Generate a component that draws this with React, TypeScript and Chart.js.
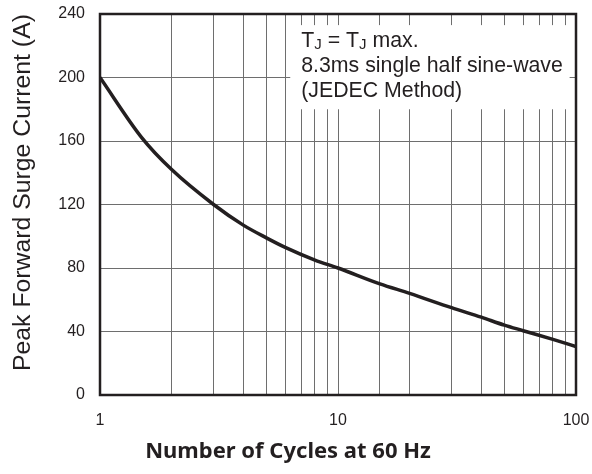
import React, { useEffect, useRef } from "react";
import { Chart, registerables } from "chart.js";
Chart.register(...registerables);

// Data
const cycles = [1, 1.5, 2, 3, 4, 5, 6, 8, 10, 15, 20, 30, 40, 50, 60, 80, 100];
const surgeCurrent = [200, 162, 142, 120, 107, 99, 93, 85, 80, 70, 64, 55, 49, 44, 40.5, 35, 30.5];
const xTickLabels = [1, 10, 100];
const yMin = 0;
const yMax = 240;
const yStep = 40;
const xTitle = "Number of Cycles at 60 Hz";
const yTitle = "Peak Forward Surge Current (A)";
const noteLines = ["8.3ms single half sine-wave", "(JEDEC Method)"];
// note box extent in data units
const noteX = [6.3, 94];
const noteY = [180, 233];

const INK = "#231f20";
const FONT = "'Liberation Sans', Arial, sans-serif";

const decor = {
  id: "decor",
  beforeDatasetsDraw(chart: any) {
    const { ctx, scales } = chart;
    const x = scales.x;
    const y = scales.y;
    const l = x.getPixelForValue(noteX[0]);
    const r = x.getPixelForValue(noteX[1]);
    const t = y.getPixelForValue(noteY[1]);
    const b = y.getPixelForValue(noteY[0]);
    ctx.save();
    ctx.fillStyle = "#ffffff";
    ctx.fillRect(l, t, r - l, b - t);
    ctx.fillStyle = INK;
    ctx.textBaseline = "alphabetic";
    ctx.textAlign = "left";
    const tx = l + 11;
    const base = t + 22;
    const big = `21.3px ${FONT}`;
    const small = `15px ${FONT}`;
    const parts: [string, boolean][] = [
      ["T", false],
      ["J", true],
      [" = T", false],
      ["J", true],
      [" max.", false],
    ];
    let cx = tx;
    for (const [s, sub] of parts) {
      ctx.font = sub ? small : big;
      ctx.fillText(s, cx, base + (sub ? 1.5 : 0));
      cx += ctx.measureText(s).width;
    }
    ctx.font = big;
    noteLines.forEach((line, i) => {
      ctx.fillText(line, tx, base + 25 * (i + 1));
    });
    ctx.restore();
  },
  afterDatasetsDraw(chart: any) {
    const { ctx, chartArea } = chart;
    ctx.save();
    ctx.strokeStyle = INK;
    ctx.lineWidth = 2.5;
    ctx.strokeRect(chartArea.left, chartArea.top, chartArea.right - chartArea.left, chartArea.bottom - chartArea.top);
    ctx.restore();
  },
  afterDraw(chart: any) {
    const { ctx, chartArea } = chart;
    ctx.save();
    ctx.translate(30, chartArea.bottom - 24);
    ctx.rotate(-Math.PI / 2);
    ctx.font = `24.8px ${FONT}`;
    ctx.fillStyle = INK;
    ctx.textAlign = "left";
    ctx.textBaseline = "alphabetic";
    ctx.fillText(yTitle, 0, 0);
    ctx.restore();
  },
};

export default function App() {
  const ref = useRef<HTMLCanvasElement | null>(null);
  useEffect(() => {
    document.body.style.margin = "0";
    const canvas = ref.current;
    if (!canvas) return;
    const chart = new Chart(canvas, {
      type: "line",
      data: {
        datasets: [
          {
            data: cycles.map((c, i) => ({ x: c, y: surgeCurrent[i] })),
            borderColor: INK,
            borderWidth: 3.5,
            pointRadius: 0,
            cubicInterpolationMode: "monotone",
            fill: false,
          },
        ],
      },
      options: {
        animation: false,
        responsive: false,
        layout: { padding: { top: 14, right: 16, left: 0, bottom: 0 } },
        plugins: {
          legend: { display: false },
          tooltip: { enabled: false },
          title: {
            display: true,
            position: "bottom",
            text: xTitle,
            color: INK,
            font: { family: "'Noto Sans', sans-serif", weight: "bold", size: 22 },
            padding: { top: 4, bottom: 9 },
          },
        },
        scales: {
          x: {
            type: "logarithmic",
            min: 1,
            max: 100,
            grid: { color: "#6e6e6e", lineWidth: 1, drawTicks: true, tickLength: 16, tickColor: "rgba(0,0,0,0)" },
            border: { display: false },
            ticks: {
              autoSkip: false,
              maxRotation: 0,
              padding: 0,
              color: INK,
              font: { family: FONT, size: 16 },
              callback: (v: any) => (xTickLabels.includes(Number(v)) ? String(v) : ""),
            },
            afterFit: (s: any) => {
              s.height = 39.6;
            },
          },
          y: {
            min: yMin,
            max: yMax,
            grid: { color: "#6e6e6e", lineWidth: 1, drawTicks: true, tickLength: 15, tickColor: "rgba(0,0,0,0)" },
            border: { display: false },
            ticks: {
              stepSize: yStep,
              padding: 0,
              color: INK,
              font: { family: FONT, size: 16 },
            },
            afterFit: (s: any) => {
              s.width = 100;
            },
          },
        },
      },
      plugins: [decor],
    });
    return () => chart.destroy();
  }, []);
  return <canvas ref={ref} width={592} height={474} style={{ display: "block" }} />;
}
